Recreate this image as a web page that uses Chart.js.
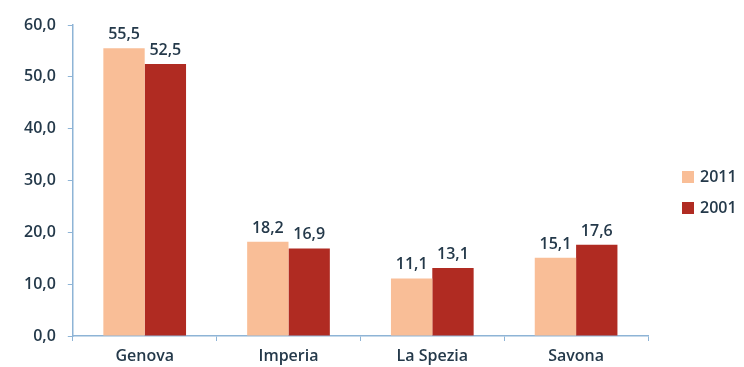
<!DOCTYPE html>
<html>
<head>
<meta charset="utf-8">
<script src="https://cdn.jsdelivr.net/npm/chart.js@4/dist/chart.umd.min.js"></script>
<style>
    html, body { margin: 0; padding: 0; background: #fff; }
    #wrap { width: 744px; height: 367px; }
</style>
</head>
<body>
<div id="wrap"><canvas id="chart" width="744" height="367"></canvas></div>
<script>
const categories = ['Genova', 'Imperia', 'La Spezia', 'Savona'];
const values2011 = [55.5, 18.2, 11.1, 15.1];
const values2001 = [52.5, 16.9, 13.1, 17.6];
const seriesLabels = ['2011', '2001'];
const seriesColors = ['#F9BE97', '#B02B22'];

const axisColor = '#8EB4D6';
const textColor = '#24394A';
const fontFamily = '"Open Sans", sans-serif';

function fmt(v) {
    return v.toFixed(1).replace('.', ',');
}

// value labels above each bar
const barLabels = {
    id: 'barLabels',
    afterDatasetsDraw(chart) {
        const ctx = chart.ctx;
        ctx.save();
        ctx.font = '600 16px ' + fontFamily;
        ctx.fillStyle = textColor;
        ctx.textAlign = 'center';
        ctx.textBaseline = 'alphabetic';
        chart.data.datasets.forEach((ds, i) => {
            chart.getDatasetMeta(i).data.forEach((bar, j) => {
                ctx.fillText(fmt(ds.data[j]), bar.x, bar.y - 9);
            });
        });
        ctx.restore();
    }
};

// legend on the right, drawn by hand so the plot area keeps its width
const sideLegend = {
    id: 'sideLegend',
    afterDraw(chart) {
        const ctx = chart.ctx;
        ctx.save();
        ctx.font = '600 16px ' + fontFamily;
        ctx.textBaseline = 'middle';
        ctx.textAlign = 'left';
        chart.data.datasets.forEach((ds, i) => {
            const y = 177 + i * 31;
            ctx.fillStyle = ds.backgroundColor;
            ctx.fillRect(682, y - 6, 12, 12);
            ctx.fillStyle = textColor;
            ctx.fillText(ds.label, 700, y);
        });
        ctx.restore();
    }
};

new Chart(document.getElementById('chart').getContext('2d'), {
    type: 'bar',
    data: {
        labels: categories,
        datasets: [{
            label: seriesLabels[0],
            data: values2011,
            backgroundColor: seriesColors[0]
        }, {
            label: seriesLabels[1],
            data: values2001,
            backgroundColor: seriesColors[1]
        }]
    },
    options: {
        responsive: false,
        animation: false,
        datasets: {
            bar: { barPercentage: 1, categoryPercentage: 0.575 }
        },
        layout: { padding: { top: 25, left: 12, right: 96, bottom: 0 } },
        scales: {
            y: {
                min: 0,
                max: 60,
                ticks: {
                    stepSize: 10,
                    color: textColor,
                    font: { family: fontFamily, size: 16, weight: '600' },
                    padding: 12,
                    callback: v => fmt(v)
                },
                grid: {
                    drawOnChartArea: false,
                    drawTicks: true,
                    tickLength: 5,
                    color: axisColor
                },
                border: { color: axisColor, width: 1.5 }
            },
            x: {
                afterFit(scale) { scale.height = 31; },
                ticks: {
                    color: textColor,
                    font: { family: fontFamily, size: 16, weight: '600' },
                    padding: 6
                },
                grid: {
                    drawOnChartArea: false,
                    drawTicks: true,
                    tickLength: 5,
                    color: axisColor
                },
                border: { color: axisColor, width: 1.5 }
            }
        },
        plugins: {
            legend: { display: false },
            tooltip: { enabled: false }
        }
    },
    plugins: [barLabels, sideLegend]
});
</script>
</body>
</html>
